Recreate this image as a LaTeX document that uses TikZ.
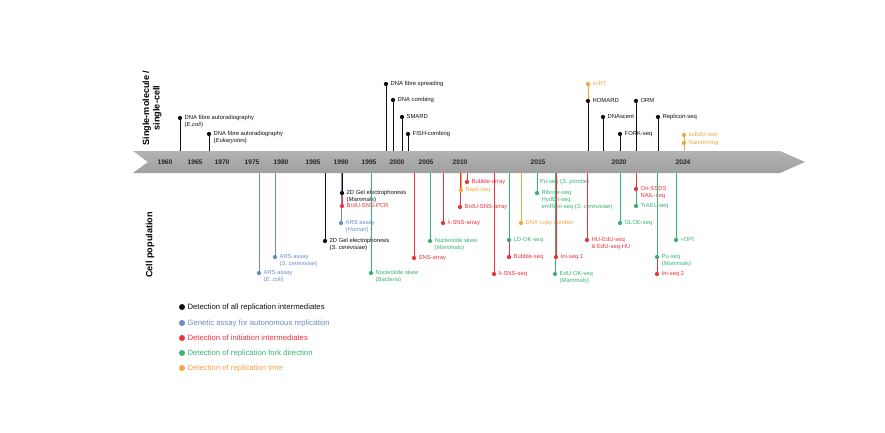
\documentclass[tikz,border=0pt]{standalone}
\usepackage{fontspec}
\setmainfont{Liberation Sans}
\begin{document}
\begin{tikzpicture}[x=0.75pt,y=-0.75pt,
  dot/.style={circle,inner sep=0pt,minimum size=3.2pt},
  stem/.style={line width=0.7pt},
  lbl/.style={font=\fontsize{4.4}{5}\selectfont,align=left,inner sep=0.5pt,anchor=north west},
  yr/.style={font=\bfseries\fontsize{5}{6}\selectfont,text=black!85},
  leg/.style={font=\fontsize{5.8}{6.5}\selectfont,anchor=west,inner sep=1pt}]
\definecolor{cb}{HTML}{6C8EC7}
\definecolor{cr}{HTML}{E8343F}
\definecolor{cg}{HTML}{3BB273}
\definecolor{co}{HTML}{F5A545}
\definecolor{ck}{HTML}{111111}
\useasboundingbox (0,0) rectangle (885,432);
\fill[white] (0,0) rectangle (885,432);
% band
\shade[top color=gray!60,middle color=gray!20,bottom color=gray!75]
  (133,151) -- (780,151) -- (805,162) -- (780,173) -- (133,173) -- (148,162) -- cycle;
\foreach \yy/\xx in {1960/165,1965/195,1970/222,1975/252,1980/281,1985/313,1990/341,1995/369,2000/397,2005/426,2010/460,2015/538,2020/619,2024/683}
  \node[yr] (y\yy) at (\xx,162) {\yy};
% macros
\newcommand\evtop[5]{%
  \coordinate (#4s) at (#1,151);
  \node[dot,fill=#3] (#4) at (#1,#2) {};
  \draw[#3,stem] (#4s) -- (#4);
  \node[lbl,text=#3] (#4t) at ([xshift=1pt,yshift=2.4pt]#4.east) {#5};}
\newcommand\evbot[5]{%
  \coordinate (#4s) at (#1,173);
  \node[dot,fill=#3] (#4) at (#1,#2) {};
  \draw[#3,stem] (#4s) -- (#4);
  \node[lbl,text=#3] (#4t) at ([xshift=1pt,yshift=2.4pt]#4.east) {#5};}
% top events
\evtop{180}{118}{ck}{a1}{DNA fibre autoradiography\\(\textit{E.coli})}
\evtop{209}{134}{ck}{a2}{DNA fibre autoradiography\\(\textit{Eukaryotes})}
\evtop{386}{84}{ck}{a3}{DNA fibre spreading}
\evtop{393}{100}{ck}{a4}{DNA combing}
\evtop{402}{117}{ck}{a5}{SMARD}
\evtop{408}{134}{ck}{a6}{FISH-combing}
\evtop{588}{84}{co}{a7}{scRT}
\evtop{588}{101}{ck}{a8}{HOMARD}
\evtop{603}{117}{ck}{a9}{DNAscent}
\evtop{636}{101}{ck}{a10}{ORM}
\evtop{620}{134}{ck}{a11}{FORK-seq}
\evtop{658}{117}{ck}{a12}{Replicon-seq}
\evtop{684}{135}{co}{a13}{scEdU-seq}
\evtop{684}{143}{co}{a14}{Nanotiming}
% bottom events
\evbot{259}{273}{cb}{b1}{ARS assay\\(\textit{E. coli})}
\evbot{275}{257}{cb}{b2}{ARS assay\\(\textit{S. cerevisiae})}
\evbot{325}{241}{ck}{b3}{2D Gel electrophoresis\\(\textit{S. cerevisiae})}
\evbot{341}{223}{cb}{b6}{ARS assay\\(\textit{Human})}
\evbot{342}{206}{cr}{b5}{BrdU-SNS-PCR}
\evbot{342}{193}{ck}{b4}{2D Gel electrophoresis\\(\textit{Mammals})}
\evbot{371}{273}{cg}{b7}{Nucleotide skew\\(\textit{Bacteria})}
\evbot{414}{258}{cr}{b8}{SNS-array}
\evbot{430}{241}{cg}{b9}{Nucleotide skew\\(\textit{Mammals})}
\evbot{443}{223}{cr}{b10}{λ-SNS-array}
\evbot{460}{207}{cr}{b13}{BrdU-SNS-array}
\evbot{461}{190}{co}{b12}{Repli-seq}
\evbot{467}{182}{cr}{b11}{Bubble-array}
\evbot{494}{274}{cr}{b14}{λ-SNS-seq}
\evbot{509}{257}{cr}{b15}{Bubble-seq}
\evbot{509}{240}{cg}{b16}{LD-OK-seq}
\evbot{521}{223}{co}{b17}{DNA copy number}
\evbot{537}{193}{cg}{b19}{Ribose-seq\\HydEn-seq\\emRibo-seq (\textit{S. cerevisiae})}
\node[lbl,text=cg] (b18t) at (539,178) {Pu-seq (\textit{S. pombe})};
\evbot{555}{274}{cg}{b21}{EdU-OK-seq\\(\textit{Mammals})}
\evbot{556}{257}{cr}{b20}{Ini-seq 1}
\evbot{587}{240}{cr}{b22}{HU-EdU-seq\\\& EdU-seq-HU}
\evbot{620}{223}{cg}{b23}{GLOE-seq}
\evbot{636}{206}{cg}{b25}{TrAEL-seq}
\evbot{636}{189}{cr}{b24}{Ori-SSDS\\NAIL-seq}
\evbot{657}{274}{cr}{b27}{Ini-seq 2}
\evbot{657}{257}{cg}{b26}{Pu-seq\\(\textit{Mammals})}
\evbot{676}{240}{cg}{b28}{i-OPI}
% side labels
\node[rotate=90,font=\bfseries\fontsize{6.8}{7.8}\selectfont,align=center] (sl1) at (152,108) {Single-molecule /\\single-cell};
\node[rotate=90,font=\bfseries\fontsize{6.8}{7.8}\selectfont] (sl2) at (150,245) {Cell population};
% legend
\foreach \c/\t/\yy [count=\i] in {ck/Detection of all replication intermediates/307, cb/Genetic assay for autonomous replication/323, cr/Detection of initiation intermediates/338, cg/Detection of replication fork direction/353, co/Detection of replication time/368}{
  \node[dot,fill=\c,minimum size=4.5pt] (l\i) at (182,\yy) {};
  \node[leg,text=\c] (lt\i) at ([xshift=0.5pt]l\i.east) {\t};
}
\end{tikzpicture}
\end{document}
